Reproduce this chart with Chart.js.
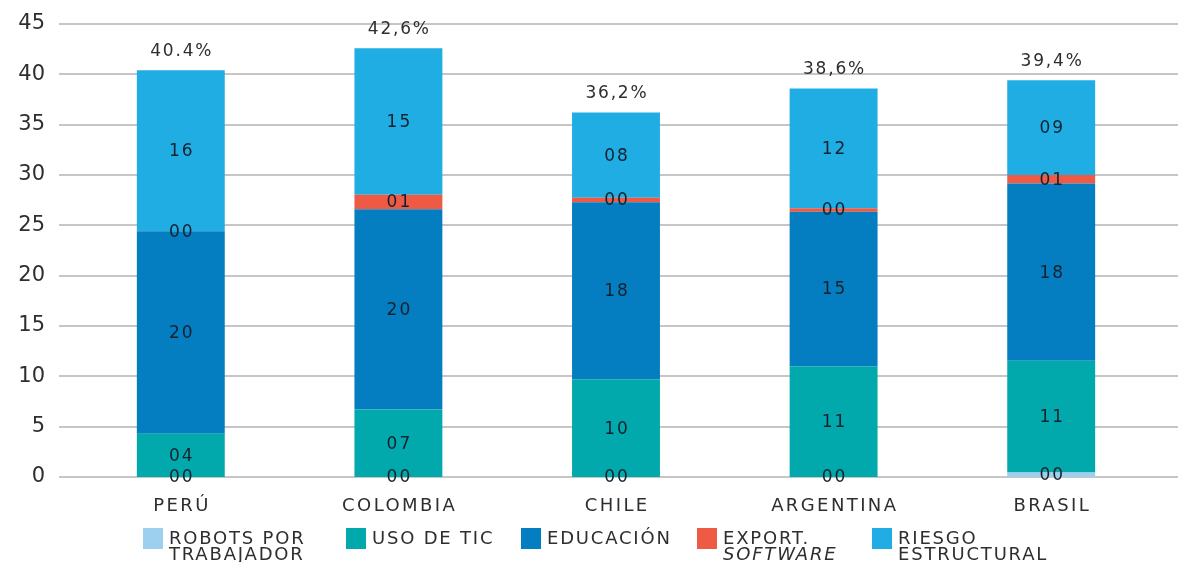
<!DOCTYPE html>
<html>
<head>
<meta charset="utf-8">
<script src="https://cdn.jsdelivr.net/npm/chart.js@4.4.1/dist/chart.umd.min.js"></script>
<style>
  html, body { margin: 0; padding: 0; background: #ffffff; }
  #wrap { width: 1178px; height: 562px; }
</style>
</head>
<body>
<div id="wrap"><canvas id="c" width="1178" height="562"></canvas></div>
<script>
// ---- data ----
const categories = ['PERÚ', 'COLOMBIA', 'CHILE', 'ARGENTINA', 'BRASIL'];
const robotsPorTrabajador = [0, 0, 0, 0, 0.45];
const usoDeTic            = [4.3, 6.7, 9.7, 11.0, 11.1];
const educacion           = [20.1, 19.9, 17.6, 15.35, 17.6];
const exportSoftware      = [0, 1.45, 0.45, 0.35, 0.85];
const riesgoEstructural   = [16.0, 14.55, 8.45, 11.9, 9.4];
const totalLabels = ['40.4%', '42,6%', '36,2%', '38,6%', '39,4%'];
const yTicks = [0, 5, 10, 15, 20, 25, 30, 35, 40, 45];

const seriesNames = [['ROBOTS POR', 'TRABAJADOR'], ['USO DE TIC'], ['EDUCACIÓN'], ['EXPORT.', 'SOFTWARE'], ['RIESGO', 'ESTRUCTURAL']];
const seriesColors = ['#9dd0ef', '#02a9ac', '#057dc1', '#ef5a45', '#1fade3'];

const FONT = "'DejaVu Sans', sans-serif";

function spacedText(ctx, text, x, y, spacing) {
  if ('letterSpacing' in ctx) {
    ctx.letterSpacing = spacing + 'px';
    if (ctx.textAlign === 'center') x += spacing / 2;
    ctx.fillText(text, x, y);
    ctx.letterSpacing = '0px';
  } else {
    ctx.fillText(text, x, y);
  }
}

const decorPlugin = {
  id: 'decor',
  beforeDatasetsDraw(chart) {
    const ctx = chart.ctx;
    const y = chart.scales.y;
    ctx.save();
    ctx.strokeStyle = '#c6c6c6';
    ctx.lineWidth = 2;
    yTicks.forEach(v => {
      const py = Math.round(y.getPixelForValue(v));
      ctx.beginPath();
      ctx.moveTo(chart.chartArea.left - 13, py);
      ctx.lineTo(chart.width, py);
      ctx.stroke();
    });
    ctx.restore();
  },
  afterDatasetsDraw(chart) {
    const ctx = chart.ctx;
    ctx.save();
    ctx.textAlign = 'center';
    ctx.textBaseline = 'middle';
    ctx.font = '17px ' + FONT;
    ctx.fillStyle = '#14222f';
    chart.data.datasets.forEach((ds, di) => {
      const meta = chart.getDatasetMeta(di);
      meta.data.forEach((el, i) => {
        const v = ds.data[i];
        const txt = String(Math.round(v)).padStart(2, '0');
        const cy = (el.y + el.base) / 2;
        spacedText(ctx, txt, el.x, cy + 1, 2);
      });
    });
    const lastMeta = chart.getDatasetMeta(chart.data.datasets.length - 1);
    ctx.fillStyle = '#2e2e2e';
    ctx.font = '17px ' + FONT;
    lastMeta.data.forEach((el, i) => {
      spacedText(ctx, totalLabels[i], el.x, el.y - 19, 1.8);
    });
    ctx.restore();
  },
  afterDraw(chart) {
    const ctx = chart.ctx;
    const xs = chart.scales.x;
    ctx.save();
    ctx.fillStyle = '#2e2e2e';
    ctx.font = '18px ' + FONT;
    ctx.textAlign = 'center';
    ctx.textBaseline = 'middle';
    categories.forEach((c, i) => {
      spacedText(ctx, c, xs.getPixelForValue(i), chart.chartArea.bottom + 29, 2.4);
    });
    const boxX = [143, 346, 521, 697, 872];
    const boxTop = chart.chartArea.bottom + 51;
    ctx.textAlign = 'left';
    ctx.textBaseline = 'alphabetic';
    seriesNames.forEach((lines, i) => {
      ctx.fillStyle = seriesColors[i];
      ctx.fillRect(boxX[i], boxTop, 20, 21);
      ctx.fillStyle = '#2e2e2e';
      lines.forEach((ln, li) => {
        const italic = (i === 3 && li === 1);
        ctx.font = (italic ? 'italic ' : '') + '18px ' + FONT;
        spacedText(ctx, ln, boxX[i] + 26, boxTop + 16 + li * 16, 1.8);
      });
    });
    ctx.restore();
  }
};

const datasets = [robotsPorTrabajador, usoDeTic, educacion, exportSoftware, riesgoEstructural].map((arr, i) => ({
  label: seriesNames[i].join(' '),
  data: arr,
  backgroundColor: seriesColors[i],
  borderWidth: 0,
  categoryPercentage: 1.0,
  barPercentage: 0.404
}));

new Chart(document.getElementById('c'), {
  type: 'bar',
  data: { labels: categories, datasets },
  options: {
    responsive: false,
    animation: false,
    layout: { padding: { top: 24, right: 18, bottom: 35, left: 0 } },
    plugins: { legend: { display: false }, tooltip: { enabled: false } },
    scales: {
      x: {
        stacked: true,
        grid: { display: false, drawTicks: false },
        border: { display: false },
        ticks: { display: false },
        afterFit(scale) { scale.height = 50; scale.paddingLeft = 0; scale.paddingRight = 0; }
      },
      y: {
        stacked: true,
        min: 0, max: 45,
        grid: { display: false, drawTicks: false },
        border: { display: false },
        ticks: {
          stepSize: 5,
          padding: 27,
          color: '#2e2e2e',
          font: { family: FONT, size: 21 }
        },
        afterFit(scale) { scale.width = 72; scale.paddingTop = 0; scale.paddingBottom = 0; }
      }
    }
  },
  plugins: [decorPlugin]
});
</script>
</body>
</html>
